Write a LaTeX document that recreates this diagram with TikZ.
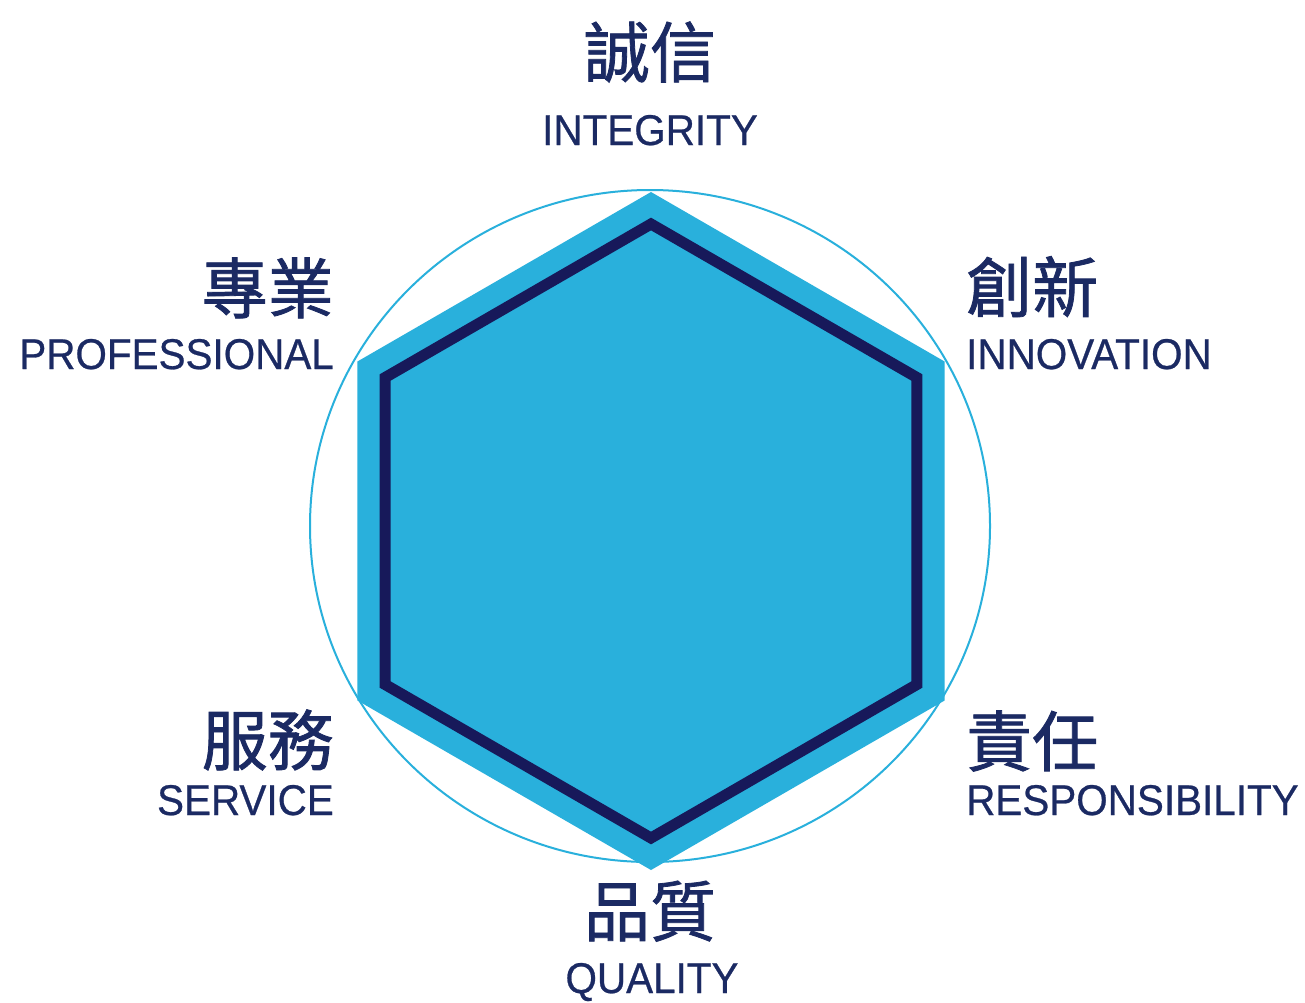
\documentclass[tikz,border=0pt]{standalone}
\usepackage{fontspec}
\usetikzlibrary{calc}
\newfontfamily\latinf[FakeStretch=0.94,FakeBold=0.6]{Liberation Sans}
\newfontfamily\cjk[FakeBold=1.2]{Noto Sans CJK TC}
\definecolor{hexblue}{HTML}{29B0DC}
\definecolor{navy}{HTML}{17195A}
\definecolor{txtnavy}{HTML}{1B2A63}
\begin{document}
\begin{tikzpicture}[x=1pt,y=-1pt,
  cjklab/.style={inner sep=0pt,text=txtnavy,font=\cjk\fontsize{66}{66}\selectfont},
  enlab/.style={inner sep=0pt,text=txtnavy,font=\latinf\fontsize{43}{43}\selectfont}]
\useasboundingbox (0,0) rectangle (1305,1002);
\fill[white] (0,0) rectangle (1305,1002);
% circle
\draw[hexblue,line width=2pt] (650,526) ellipse [x radius=340, y radius=336];
% outer hexagon
\coordinate (c) at (651,531);
\fill[hexblue] ($(c)+(30:339)$) -- ($(c)+(90:339)$) -- ($(c)+(150:339)$) -- ($(c)+(210:339)$) -- ($(c)+(270:339)$) -- ($(c)+(330:339)$) -- cycle;
\draw[navy,line width=11pt,line join=miter] ($(c)+(30:307)$) -- ($(c)+(90:307)$) -- ($(c)+(150:307)$) -- ($(c)+(210:307)$) -- ($(c)+(270:307)$) -- ($(c)+(330:307)$) -- cycle;
% labels
\node[cjklab,anchor=base] (t1) at (650,77) {誠信};
\node[enlab,anchor=base] (e1) at (650,145) {INTEGRITY};
\node[cjklab,anchor=base east] (t2) at (334,313) {專業};
\node[enlab,anchor=base east] (e2) at (334,369) {PROFESSIONAL};
\node[cjklab,anchor=base west] (t3) at (966,312) {創新};
\node[enlab,anchor=base west] (e3) at (966,369) {INNOVATION};
\node[cjklab,anchor=base east] (t4) at (334,765) {服務};
\node[enlab,anchor=base east] (e4) at (334,815) {SERVICE};
\node[cjklab,anchor=base west] (t5) at (966,766) {責任};
\node[enlab,anchor=base west] (e5) at (966,815) {RESPONSIBILITY};
\node[cjklab,anchor=base] (t6) at (650,936) {品質};
\node[enlab,anchor=base] (e6) at (652,993) {QUALITY};
\end{tikzpicture}
\end{document}
